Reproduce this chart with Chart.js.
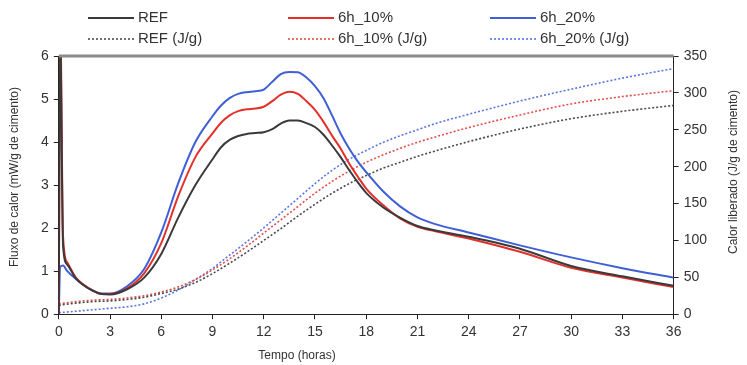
<!DOCTYPE html>
<html lang="pt">
<head>
<meta charset="utf-8">
<title>Calorimetria - REF, 6h_10%, 6h_20%</title>
<script src="https://cdn.jsdelivr.net/npm/chart.js@4/dist/chart.umd.min.js"></script>
<style>
    html, body {
        margin: 0;
        padding: 0;
        background: #ffffff;
    }

    #chartBox {
        width: 747px;
        height: 365px;
        position: relative;
    }
</style>
</head>
<body>
<div id="chartBox">
    <canvas id="calorChart"></canvas>
</div>

<script>
// ==============================
//  DADOS
// ==============================

// Tempos (horas) das leituras de fluxo de calor
const temposFluxo = [0, 0.08, 0.25, 0.5, 1, 1.5, 2, 2.5, 3,
    4, 5, 6, 7, 8, 9,
    9.5, 10, 10.5, 11, 11.5, 12,
    12.5, 13, 13.5, 14, 14.5, 15,
    15.5, 16, 16.5, 17, 17.5, 18,
    19, 20, 21, 22, 24, 27, 30, 33, 36];

// Fluxo de calor (mW/g de cimento)
const fluxoREF = [0, 6.5, 1.6, 1.15, 0.83, 0.66, 0.54, 0.47, 0.46,
    0.58, 0.85, 1.4, 2.25, 3.0, 3.6,
    3.88, 4.05, 4.14, 4.19, 4.21, 4.23,
    4.3, 4.43, 4.5, 4.5, 4.44, 4.35,
    4.17, 3.92, 3.65, 3.35, 3.07, 2.82,
    2.48, 2.24, 2.05, 1.95, 1.8, 1.52, 1.12, 0.88, 0.66];
const fluxo10 = [0, 7, 1.8, 1.2, 0.85, 0.67, 0.55, 0.47, 0.47,
    0.6, 0.95, 1.65, 2.75, 3.65, 4.2,
    4.45, 4.62, 4.72, 4.76, 4.78, 4.82,
    4.95, 5.1, 5.17, 5.12, 4.95, 4.75,
    4.47, 4.15, 3.85, 3.5, 3.2, 2.92,
    2.53, 2.22, 2.03, 1.93, 1.76, 1.45, 1.08, 0.85, 0.63];
const fluxo20 = [0, 1.1, 1.13, 1.0, 0.82, 0.66, 0.55, 0.48, 0.48,
    0.65, 1.05, 1.9, 3.05, 4.0, 4.6,
    4.85, 5.02, 5.12, 5.16, 5.18, 5.22,
    5.4, 5.58, 5.63, 5.62, 5.5, 5.3,
    5.02, 4.62, 4.2, 3.85, 3.55, 3.3,
    2.85, 2.5, 2.25, 2.1, 1.9, 1.6, 1.32, 1.07, 0.85];

// Tempos (horas) das leituras de calor acumulado
const temposCalor = [0, 1, 2, 3, 4, 5, 6, 7, 8, 9, 10, 11, 12, 13, 14, 15, 16, 17, 18,
    19, 20, 21, 22, 24, 27, 30, 33, 36];

// Calor liberado (J/g de cimento)
const calorREF = [12, 15, 17, 18, 20, 23, 28, 34, 43, 55, 69, 84, 100, 116, 133, 149, 164, 177, 188,
    198, 206, 214, 221, 234, 251, 265, 275, 283];
const calor10 = [14, 17, 19, 20, 22, 25, 30, 37, 47, 60, 75, 92, 110, 128, 146, 164, 180, 194, 206,
    216, 225, 233, 240, 253, 270, 285, 295, 303];
const calor20 = [2, 4, 6, 8, 10, 14, 22, 33, 47, 62, 80, 98, 117, 137, 157, 177, 195, 210, 222,
    233, 242, 250, 258, 271, 289, 305, 320, 333];

// Escalas
const eixoTempo = { min: 0, max: 36, passo: 3 };
const eixoFluxo = { min: 0, max: 6, passo: 1 };
const eixoCalor = { min: 0, max: 350, passo: 50 };

// Textos
const tituloX = "Tempo (horas)";
const tituloY = "Fluxo de calor (mW/g de cimento)";
const tituloY2 = "Calor liberado (J/g de cimento)";

// ==============================
//  UTILITÁRIOS
// ==============================

const FONTE = "'Liberation Sans', Arial, sans-serif";
const COR_TEXTO = "#333333";

/**
 * Junta tempos e valores em pontos {x, y} para o eixo linear.
 */
function toPoints(tempos, valores) {
    return tempos.map(function (t, i) {
        return { x: t, y: valores[i] };
    });
}

function serieFluxo(label, valores, cor) {
    return {
        label: label,
        data: toPoints(temposFluxo, valores),
        yAxisID: "y",
        borderColor: cor,
        borderWidth: 2,
        pointRadius: 0,
        cubicInterpolationMode: "monotone",
        fill: false
    };
}

function serieCalor(label, valores, cor) {
    return {
        label: label,
        data: toPoints(temposCalor, valores),
        yAxisID: "y2",
        borderColor: cor,
        borderWidth: 1.6,
        borderDash: [2, 2],
        pointRadius: 0,
        cubicInterpolationMode: "monotone",
        fill: false
    };
}

// ==============================
//  PLUGIN : moldura, títulos e legenda
// ==============================

const decoracao = {
    id: "decoracao",
    afterDatasetsDraw: function (chart) {
        const ctx = chart.ctx;
        const area = chart.chartArea;

        ctx.save();

        // Linha cinzenta no topo da área do gráfico
        ctx.strokeStyle = "#8c8c8c";
        ctx.lineWidth = 3;
        ctx.beginPath();
        ctx.moveTo(area.left, area.top);
        ctx.lineTo(area.right, area.top);
        ctx.stroke();

        // Títulos dos eixos (o da direita lê-se de baixo para cima)
        ctx.fillStyle = COR_TEXTO;
        ctx.font = "12px " + FONTE;
        ctx.textAlign = "center";
        ctx.textBaseline = "middle";

        ctx.fillText(tituloX, 297, 356);

        ctx.save();
        ctx.translate(15, 177);
        ctx.rotate(-Math.PI / 2);
        ctx.fillText(tituloY, 0, 0);
        ctx.restore();

        ctx.save();
        ctx.translate(734, 172);
        ctx.rotate(-Math.PI / 2);
        ctx.fillText(tituloY2, 0, 0);
        ctx.restore();

        // Legenda em 3 colunas x 2 linhas
        const colunas = [88, 288, 490];
        const linhas = [18, 39];
        ctx.font = "15px " + FONTE;
        ctx.textAlign = "left";

        chart.data.datasets.forEach(function (ds, i) {
            const x = colunas[i % 3];
            const y = linhas[Math.floor(i / 3)];

            ctx.strokeStyle = ds.borderColor;
            ctx.lineWidth = ds.borderWidth;
            ctx.setLineDash(ds.borderDash || []);
            ctx.beginPath();
            ctx.moveTo(x, y);
            ctx.lineTo(x + 46, y);
            ctx.stroke();
            ctx.setLineDash([]);

            ctx.fillStyle = COR_TEXTO;
            ctx.fillText(ds.label, x + 50, y);
        });

        ctx.restore();
    }
};

// ==============================
//  GRÁFICO
// ==============================

function eixoBase(cfg, position) {
    return {
        type: "linear",
        position: position,
        min: cfg.min,
        max: cfg.max,
        border: {
            display: true,
            color: "#222222",
            width: 1
        },
        grid: {
            drawOnChartArea: false,
            drawTicks: true,
            tickLength: 5,
            tickColor: "#222222"
        },
        ticks: {
            stepSize: cfg.passo,
            color: COR_TEXTO,
            padding: 5,
            font: {
                family: FONTE,
                size: 14
            }
        }
    };
}

function renderChart() {
    const ctx = document.getElementById("calorChart").getContext("2d");

    const escalaX = eixoBase(eixoTempo, "bottom");
    escalaX.ticks.maxRotation = 0;

    new Chart(ctx, {
        type: "line",
        data: {
            datasets: [
                serieFluxo("REF", fluxoREF, "#3a3a3a"),
                serieFluxo("6h_10%", fluxo10, "#e3302b"),
                serieFluxo("6h_20%", fluxo20, "#3f5fd6"),
                serieCalor("REF (J/g)", calorREF, "#4a4a4a"),
                serieCalor("6h_10% (J/g)", calor10, "#e0504a"),
                serieCalor("6h_20% (J/g)", calor20, "#5a76e0")
            ]
        },
        options: {
            responsive: true,
            maintainAspectRatio: false,
            animation: false,
            layout: {
                padding: { top: 56, left: 36, right: 35, bottom: 19 }
            },
            plugins: {
                legend: { display: false },
                tooltip: { enabled: false }
            },
            scales: {
                x: escalaX,
                y: eixoBase(eixoFluxo, "left"),
                y2: eixoBase(eixoCalor, "right")
            }
        },
        plugins: [decoracao]
    });
}

document.addEventListener("DOMContentLoaded", renderChart);
</script>
</body>
</html>
